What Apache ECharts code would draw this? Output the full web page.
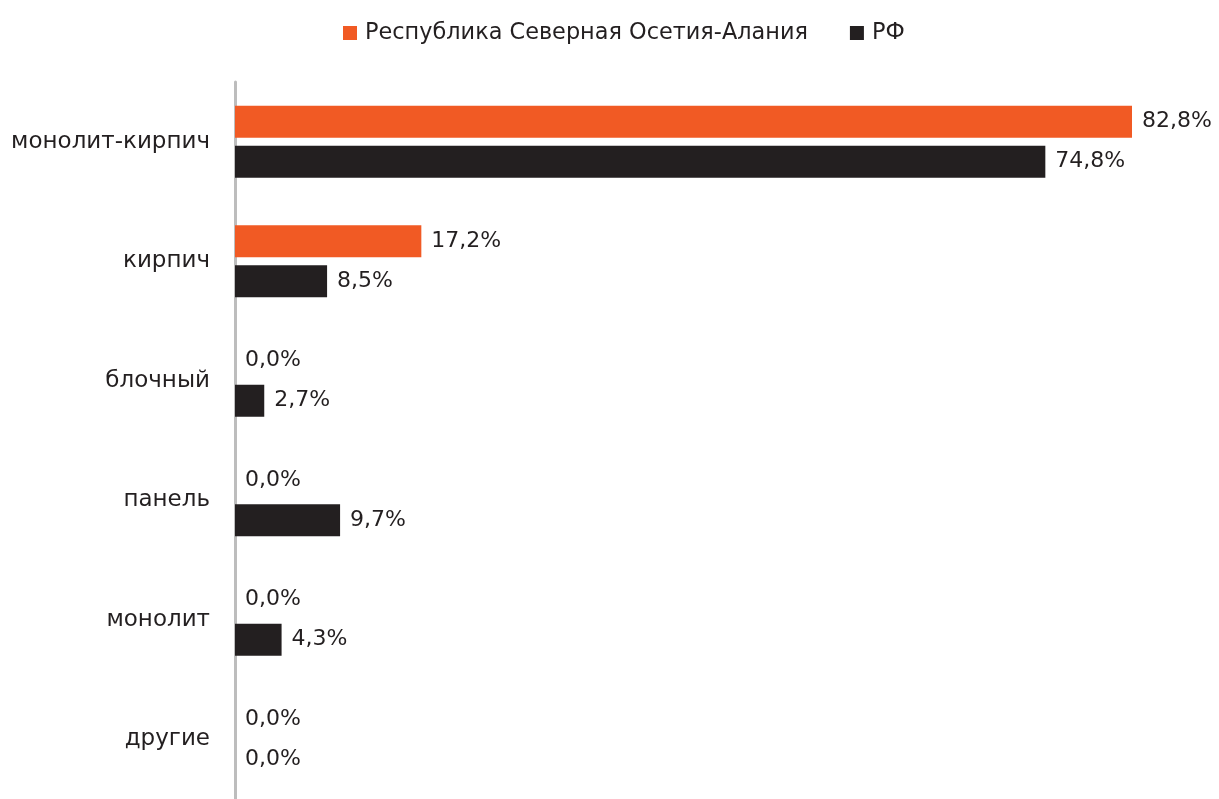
<!DOCTYPE html>
<html><head><meta charset="utf-8">
<script src="https://cdn.jsdelivr.net/npm/echarts@6/dist/echarts.min.js"></script>
<style>html,body{margin:0;padding:0;background:#fff}#c{width:1219px;height:799px}</style>
</head><body><div id="c"></div>
<script>
const categories = ['монолит-кирпич','кирпич','блочный','панель','монолит','другие'];
const seriesNames = ['Республика Северная Осетия-Алания','РФ'];
const ossetiaValues = [82.8, 17.2, 0.0, 0.0, 0.0, 0.0];
const rfValues = [74.8, 8.5, 2.7, 9.7, 4.3, 0.0];

const chart = echarts.init(document.getElementById('c'));
const font = 'DejaVu Sans';
const lbl = {show:true, position:'right', distance:10, fontFamily:font, fontSize:22, color:'#231F20',
  formatter: p => p.value.toFixed(1).replace('.', ',') + '%'};
chart.setOption({
  animation:false,
  legend:{top:17, left:338, itemWidth:14, itemHeight:14, itemGap:42, icon:'rect',
    textStyle:{fontFamily:font, fontSize:22.4, color:'#231F20', padding:[0,0,0,3]}},
  grid:{left:235, right:9, top:82, bottom:-9, containLabel:false},
  xAxis:{type:'value', min:0, max:90, show:false, splitLine:{show:false}},
  yAxis:{type:'category', data:categories, inverse:true,
    axisLine:{lineStyle:{color:'#BDBDBD', width:3}}, axisTick:{show:false},
    axisLabel:{margin:25, fontFamily:font, fontSize:23, color:'#231F20'}},
  series:[
    {name:seriesNames[0], type:'bar', data:ossetiaValues, barWidth:32, barGap:'25%',
     itemStyle:{color:'#F15A24'}, label:lbl},
    {name:seriesNames[1], type:'bar', data:rfValues, barWidth:32, barGap:'25%',
     itemStyle:{color:'#231F20'}, label:lbl}
  ]
});
</script></body></html>
